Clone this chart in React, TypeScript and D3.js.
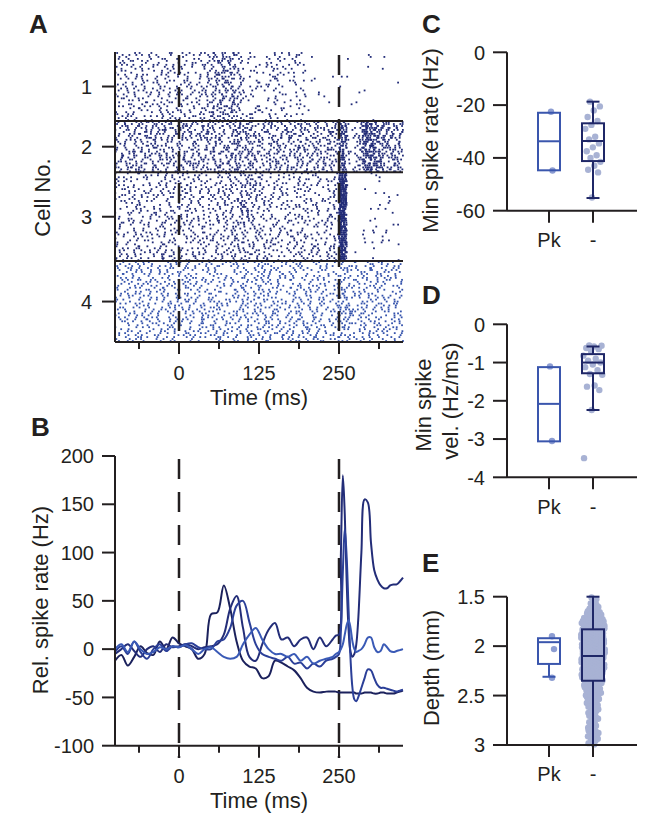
import React, { useMemo } from 'react';
import * as d3 from 'd3';

// ---------------- Panel A: raster (firing-rate profiles read per time bin) ----------------
const rasterBinEdges = [-100, -87.5, -75, -62.5, -50, -37.5, -25, -12.5, 0, 12.5, 25, 37.5, 50, 62.5, 75, 87.5, 100, 112.5, 125, 137.5, 150, 162.5, 175, 187.5, 200, 212.5, 225, 237.5, 250, 256, 262, 268, 275, 287.5, 300, 312.5, 325, 337.5, 350];
const cellLabels = ['1', '2', '3', '4'];
const cellTrials = [35, 26, 45, 41];
const cell1Rate = [58, 56, 62, 54, 60, 56, 64, 58, 56, 60, 56, 68, 110, 140, 130, 75, 55, 42, 36, 42, 52, 48, 42, 35, 10, 6, 4, 4, 4, 4, 4, 4, 3, 3, 3, 3, 3, 4];
const cell2Rate = [100, 100, 95, 105, 100, 100, 98, 104, 100, 98, 105, 104, 100, 105, 120, 150, 130, 100, 95, 110, 120, 100, 98, 104, 100, 98, 104, 106, 380, 320, 40, 30, 130, 330, 260, 160, 140, 140];
const cell3Rate = [62, 60, 64, 62, 60, 62, 60, 64, 60, 64, 62, 66, 66, 72, 80, 95, 98, 82, 66, 62, 58, 60, 58, 60, 56, 58, 60, 60, 800, 700, 6, 0, 5, 16, 16, 14, 14, 12];
const cell4Rate = [70, 72, 68, 70, 71, 69, 70, 72, 70, 71, 69, 70, 70, 68, 66, 68, 76, 84, 80, 72, 70, 68, 70, 69, 68, 70, 69, 70, 90, 98, 105, 84, 72, 80, 76, 72, 74, 72];
const timeMinorTicks = [-62.5, 62.5, 187.5, 312.5];
const timeMajorTicks = [0, 125, 250];
const eventTimes = [0, 250];

// ---------------- Panel B: relative spike rate traces ----------------
const traceTimes = [-100, -90, -80, -70, -60, -50, -40, -30, -20, -10, 0, 10, 20, 30, 40, 50, 60, 70, 80, 90, 100, 110, 120, 130, 140, 150, 160, 170, 180, 190, 200, 210, 220, 230, 240, 245, 250, 253, 256, 259, 262, 265, 268, 271, 274, 277, 280, 285, 290, 295, 300, 305, 310, 315, 320, 325, 330, 335, 340, 345, 350];
const trace1 = [-12, -6, -17, -8, 3, -4, -6, 8, 0, 12, 6, 3, 0, -10, -5, 36, 38, 66, 42, 8, -12, -18, -20, -30, -28, -12, -14, -18, -22, -30, -40, -44, -45, -44, -44, -44, -45, -45, -45, -45, -45, -45, -45, -45, -45, -46, -46, -46, -45, -45, -45, -46, -46, -45, -45, -46, -46, -46, -45, -44, -43];
const trace2 = [-5, 0, 5, -2, -8, 0, 3, -3, 5, 2, 3, 5, 3, 0, 2, 3, 5, 15, 42, 55, 22, -8, -12, 5, 20, 27, 10, 12, 3, 10, 12, 0, 12, 3, 10, 14, 15, 100, 180, 140, 70, 20, -3, -8, -5, 5, 30, 100, 155, 152, 110, 82, 72, 66, 63, 63, 66, 67, 67, 70, 74];
const trace3 = [-3, 3, -5, 8, -3, -10, 0, 5, -2, 3, 2, 5, 6, 2, 0, 0, 8, 10, 22, 45, 50, 28, 5, -5, -8, -10, -12, -8, -15, -14, -20, -15, -18, -12, -10, -8, -5, 20, 80, 125, 95, 40, -10, -40, -52, -54, -50, -40, -30, -21, -22, -30, -37, -40, -40, -41, -42, -43, -44, -43, -42];
const trace4 = [0, 5, -3, 8, 0, -5, -3, 2, 0, 3, 2, 4, 0, -5, 0, 2, -3, -8, -10, -8, 5, 15, 22, 10, 0, -5, -5, -8, -5, -12, -8, -15, -12, -10, -8, -5, -3, 0, 5, 15, 25, 30, 22, 8, 0, -3, -2, 0, 5, 12, 12, 2, -3, -2, 5, 2, -2, -3, -2, -1, 0];
const rateTicks = [-100, -50, 0, 50, 100, 150, 200];

// ---------------- Panels C-E ----------------
const groupLabels = ['Pk', '-'];
// box stats: [low whisker, q1, median, q3, high whisker]
const cPkPoints = [-22.5, -44.8];
const cNegPoints = [-18.7, -20.5, -22, -24.5, -26, -27.5, -29, -32, -33, -34.5, -36, -37.5, -39, -40, -41.5, -43, -44.5, -45.5, -55];
const cPkBox = [-44.7, -44.7, -33.7, -22.9, -22.9];
const cNegBox = [-55.2, -41.2, -33.6, -26.9, -18.7];
const cTicks = [0, -20, -40, -60];

const dPkPoints = [-1.1, -3.05];
const dNegPoints = [-0.55, -0.56, -0.58, -0.62, -0.65, -0.7, -0.82, -0.9, -0.95, -1.0, -1.05, -1.12, -1.2, -1.3, -1.32, -1.6, -1.63, -1.72, -2.24, -3.5];
const dPkBox = [-3.06, -3.06, -2.08, -1.12, -1.12];
const dNegBox = [-2.24, -1.28, -1.0, -0.78, -0.58];
const dTicks = [0, -1, -2, -3, -4];

const ePkPoints = [1.9, 2.03, 2.32];
const ePkBox = [1.92, 1.92, 1.96, 2.18, 2.31];
const eNegBox = [1.5, 1.83, 2.1, 2.35, 3.0];
const eDepthBins = [1.5, 1.55, 1.6, 1.65, 1.7, 1.75, 1.8, 1.85, 1.9, 1.95, 2.0, 2.05, 2.1, 2.15, 2.2, 2.25, 2.3, 2.35, 2.4, 2.45, 2.5, 2.55, 2.6, 2.65, 2.7, 2.75, 2.8, 2.85, 2.9, 2.95];
const eDepthCounts = [3, 4, 6, 10, 14, 16, 18, 18, 18, 18, 18, 18, 18, 17, 16, 15, 14, 12, 11, 10, 8, 7, 6, 5, 5, 4, 5, 6, 6, 4];
const eTicks = [1.5, 2, 2.5, 3];
const eTickLabels = ['1.5', '2', '2.5', '3'];

const FONT = "'Liberation Sans', Arial, Helvetica, sans-serif";
const AX = '#231f20';
const DARK = ['#222c78', '#222c78', '#222c78', '#3553ac'];
const TRACE_COLORS = ['#1b215c', '#232d78', '#2b3f98', '#3a5ab6'];
const PK = '#3a56ad';
const NEG = '#1f2767';
const PT = '#a8b2d4';
const PKPT = '#8d9dd2';

function hash4(a: number, b: number, c: number, d: number) {
  let h = 0x811c9dc5;
  h = Math.imul(h ^ a, 0x01000193);
  h = Math.imul(h ^ b, 0x01000193);
  h = Math.imul(h ^ c, 0x01000193);
  h = Math.imul(h ^ d, 0x01000193);
  h ^= h >>> 15; h = Math.imul(h, 0x2c1b3c6d);
  h ^= h >>> 12; h = Math.imul(h, 0x297a2d39);
  h ^= h >>> 15;
  return (h >>> 0) / 4294967296;
}

function BoxPlot({ x, y, stats, color, w = 22, cap = 13 }: any) {
  const [lo, q1, med, q3, hi] = stats;
  const yTop = Math.min(y(q1), y(q3));
  const yBot = Math.max(y(q1), y(q3));
  return (
    <g stroke={color} strokeWidth={2} fill="none">
      {lo !== q1 && <line x1={x} x2={x} y1={y(lo)} y2={y(q1)} />}
      {hi !== q3 && <line x1={x} x2={x} y1={y(hi)} y2={y(q3)} />}
      {lo !== q1 && <line x1={x - cap / 2} x2={x + cap / 2} y1={y(lo)} y2={y(lo)} />}
      {hi !== q3 && <line x1={x - cap / 2} x2={x + cap / 2} y1={y(hi)} y2={y(hi)} />}
      <rect x={x - w / 2} y={yTop} width={w} height={yBot - yTop} />
      <line x1={x - w / 2} x2={x + w / 2} y1={y(med)} y2={y(med)} />
    </g>
  );
}

function SmallAxes({ y, ticks, labels, xScale, x0, x1, catY }: any) {
  const [r0, r1] = y.range();
  const yb = Math.max(r0, r1);
  return (
    <g>
      <line x1={x0} x2={x0} y1={Math.min(r0, r1)} y2={yb} stroke={AX} strokeWidth={2} />
      <line x1={x0} x2={x1} y1={yb} y2={yb} stroke={AX} strokeWidth={2} />
      {ticks.map((t: number, i: number) => (
        <g key={i}>
          <line x1={x0 - 14} x2={x0} y1={y(t)} y2={y(t)} stroke={AX} strokeWidth={2} />
          <text x={x0 - 22} y={y(t)} dy="0.36em" textAnchor="end" fontSize={20} fill={AX}>{labels ? labels[i] : String(t)}</text>
        </g>
      ))}
      {groupLabels.map((g) => (
        <g key={g}>
          <line x1={xScale(g)} x2={xScale(g)} y1={yb} y2={yb + 12} stroke={AX} strokeWidth={2} />
          <text x={xScale(g)} y={catY} textAnchor="middle" fontSize={20} fill={AX}>{g}</text>
        </g>
      ))}
    </g>
  );
}

export default function App() {
  const xT = d3.scaleLinear().domain([-100, 350]).range([115, 403]);
  const totalTrials = d3.sum(cellTrials);
  const yTrial = d3.scaleLinear().domain([0, totalTrials]).range([52, 342]);
  const cum = cellTrials.map((_, i) => d3.sum(cellTrials.slice(0, i)));
  const rates = [cell1Rate, cell2Rate, cell3Rate, cell4Rate];

  const spikes = useMemo(() => {
    const out: { t: number; r: number; c: number }[] = [];
    rates.forEach((rate, c) => {
      for (let j = 0; j < cellTrials[c]; j++) {
        for (let k = 0; k < rate.length; k++) {
          const t0 = rasterBinEdges[k];
          const dt = rasterBinEdges[k + 1] - t0;
          const lam = (rate[k] * dt) / 1000;
          const n = Math.floor(lam + hash4(c, j, k, 0));
          for (let i = 0; i < n; i++) {
            out.push({ t: t0 + dt * hash4(c, j, k, i + 1), r: cum[c] + j + 0.5, c });
          }
        }
      }
    });
    return out;
  }, []);

  const yB = d3.scaleLinear().domain([-100, 200]).range([745.7, 456]);
  const line = d3.line<number>()
    .x((_, i) => xT(traceTimes[i]))
    .y((v) => yB(v))
    .curve(d3.curveCatmullRom.alpha(0.5));
  const traces = [trace1, trace2, trace3, trace4];

  const xG = d3.scalePoint<string>().domain(groupLabels).range([549, 593]);
  const yC = d3.scaleLinear().domain([-60, 0]).range([210.7, 52.3]);
  const yD = d3.scaleLinear().domain([-4, 0]).range([477.3, 324.3]);
  const yE = d3.scaleLinear().domain([1.5, 3]).range([596.7, 745]);

  const jitter = (i: number, w: number) => ((((i * 0.618034 + 0.31) % 1) - 0.5) * w);

  const ePoints: { v: number; dx: number }[] = [];
  eDepthBins.forEach((b, k) => {
    const n = eDepthCounts[k];
    const w = Math.min(24, 4 + n * 1.25);
    for (let i = 0; i < n; i++) {
      ePoints.push({ v: b + (0.05 * (i + 0.5)) / n, dx: jitter(i + k * 7, w) });
    }
  });

  const timeAxis = (yAxis: number) => (
    <g>
      <line x1={115} x2={403} y1={yAxis} y2={yAxis} stroke={AX} strokeWidth={2} />
      {timeMinorTicks.map((t) => (
        <line key={t} x1={xT(t)} x2={xT(t)} y1={yAxis} y2={yAxis + 7} stroke={AX} strokeWidth={2} />
      ))}
      {timeMajorTicks.map((t) => (
        <line key={t} x1={xT(t)} x2={xT(t)} y1={yAxis} y2={yAxis + 12} stroke={AX} strokeWidth={2} />
      ))}
    </g>
  );

  return (
    <svg width={658} height={819} style={{ position: 'absolute', left: 0, top: 0, background: '#fff' }} fontFamily={FONT}>
      <rect x={0} y={0} width={658} height={819} fill="#fff" />
      {/* Panel letters */}
      <g fontWeight="bold" fontSize={26} fill={AX}>
        <text x={29} y={33}>A</text>
        <text x={31} y={436}>B</text>
        <text x={422} y={33}>C</text>
        <text x={422} y={304}>D</text>
        <text x={422} y={572}>E</text>
      </g>

      {/* Panel A */}
      <g>
        {spikes.map((s, i) => (
          <rect key={i} x={xT(s.t) - 0.9} y={yTrial(s.r) - 0.9} width={1.8} height={1.8} fill={DARK[s.c]} />
        ))}
        {cum.slice(1).map((c, i) => (
          <line key={i} x1={115} x2={403} y1={yTrial(c)} y2={yTrial(c)} stroke={AX} strokeWidth={2} />
        ))}
        {eventTimes.map((t) => (
          <line key={t} x1={xT(t)} x2={xT(t)} y1={55} y2={342} stroke={AX} strokeWidth={2.5} strokeDasharray="20,12" />
        ))}
        <line x1={115} x2={115} y1={52} y2={342} stroke={AX} strokeWidth={2} />
        {timeAxis(342)}
        {cellLabels.map((l, i) => {
          const yc = yTrial(cum[i] + cellTrials[i] / 2);
          return (
            <g key={l}>
              <line x1={102} x2={115} y1={yc} y2={yc} stroke={AX} strokeWidth={2} />
              <text x={92} y={yc} dy="0.36em" textAnchor="end" fontSize={20} fill={AX}>{l}</text>
            </g>
          );
        })}
        {timeMajorTicks.map((t) => (
          <text key={t} x={xT(t)} y={380} textAnchor="middle" fontSize={20} fill={AX}>{t}</text>
        ))}
        <text x={xT(125)} y={405} textAnchor="middle" fontSize={22} fill={AX}>Time (ms)</text>
        <text transform="translate(50,197.5) rotate(-90)" textAnchor="middle" fontSize={22} fill={AX}>Cell No.</text>
      </g>

      {/* Panel B */}
      <g>
        {eventTimes.map((t) => (
          <line key={t} x1={xT(t)} x2={xT(t)} y1={459} y2={758} stroke={AX} strokeWidth={2.5} strokeDasharray="20,13" />
        ))}
        {traces.map((tr, i) => (
          <path key={i} d={line(tr) || ''} fill="none" stroke={TRACE_COLORS[i]} strokeWidth={2} />
        ))}
        <line x1={115} x2={115} y1={456} y2={745.7} stroke={AX} strokeWidth={2} />
        {rateTicks.map((t) => (
          <g key={t}>
            <line x1={102} x2={115} y1={yB(t)} y2={yB(t)} stroke={AX} strokeWidth={2} />
            <text x={94} y={yB(t)} dy="0.36em" textAnchor="end" fontSize={20} fill={AX}>{t}</text>
          </g>
        ))}
        {timeAxis(745.7)}
        {timeMajorTicks.map((t) => (
          <text key={t} x={xT(t)} y={782.7} textAnchor="middle" fontSize={20} fill={AX}>{t}</text>
        ))}
        <text x={xT(125)} y={808} textAnchor="middle" fontSize={22} fill={AX}>Time (ms)</text>
        <text transform="translate(48,600) rotate(-90)" textAnchor="middle" fontSize={22} fill={AX}>Rel. spike rate (Hz)</text>
      </g>

      {/* Panel C */}
      <g>
        {cNegPoints.map((v, i) => (
          <circle key={i} cx={xG('-')! + jitter(i, 16)} cy={yC(v)} r={3.2} fill={PT} />
        ))}
        {cPkPoints.map((v, i) => (
          <circle key={i} cx={xG('Pk')! + 2 + i * 1.5} cy={yC(v)} r={3.2} fill={PKPT} />
        ))}
        <BoxPlot x={xG('Pk')} y={yC} stats={cPkBox} color={PK} />
        <BoxPlot x={xG('-')} y={yC} stats={cNegBox} color={NEG} />
        <SmallAxes y={yC} ticks={cTicks} xScale={xG} x0={507} x1={637} catY={247} />
        <text transform="translate(438,140.5) rotate(-90)" textAnchor="middle" fontSize={22} fill={AX}>Min spike rate (Hz)</text>
      </g>

      {/* Panel D */}
      <g>
        {dNegPoints.map((v, i) => (
          <circle key={i} cx={xG('-')! + jitter(i, 20)} cy={yD(v)} r={3.2} fill={PT} />
        ))}
        {dPkPoints.map((v, i) => (
          <circle key={i} cx={xG('Pk')! + 1 + i * 2} cy={yD(v)} r={3.2} fill={PKPT} />
        ))}
        <BoxPlot x={xG('Pk')} y={yD} stats={dPkBox} color={PK} />
        <BoxPlot x={xG('-')} y={yD} stats={dNegBox} color={NEG} />
        <SmallAxes y={yD} ticks={dTicks} xScale={xG} x0={507} x1={637} catY={514} />
        <text transform="translate(431,405) rotate(-90)" textAnchor="middle" fontSize={22} fill={AX}>Min spike</text>
        <text transform="translate(458,401) rotate(-90)" textAnchor="middle" fontSize={22} fill={AX}>vel. (Hz/ms)</text>
      </g>

      {/* Panel E */}
      <g>
        {ePoints.map((p, i) => (
          <circle key={i} cx={xG('-')! + p.dx} cy={yE(p.v)} r={3.2} fill={PT} />
        ))}
        {ePkPoints.map((v, i) => (
          <circle key={i} cx={xG('Pk')! + 3 + (i % 2) * 2} cy={yE(v)} r={3.2} fill={PKPT} />
        ))}
        <BoxPlot x={xG('Pk')} y={yE} stats={ePkBox} color={PK} />
        <BoxPlot x={xG('-')} y={yE} stats={eNegBox} color={NEG} />
        <SmallAxes y={yE} ticks={eTicks} labels={eTickLabels} xScale={xG} x0={507} x1={637} catY={781} />
        <text transform="translate(439,668) rotate(-90)" textAnchor="middle" fontSize={22} fill={AX}>Depth (mm)</text>
      </g>
    </svg>
  );
}
